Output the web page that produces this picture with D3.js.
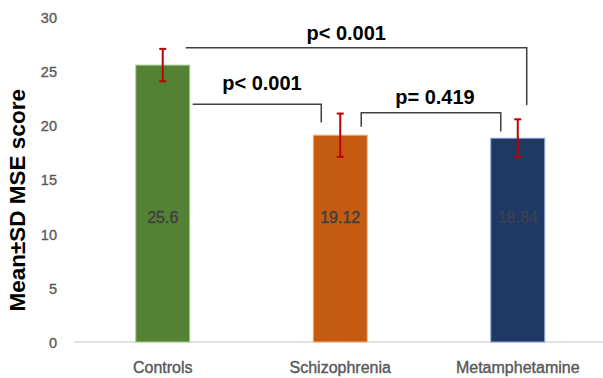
<!DOCTYPE html>
<html>
<head>
<meta charset="utf-8">
<script src="https://cdn.jsdelivr.net/npm/d3@7"></script>
<style>
  html, body { margin: 0; padding: 0; background: #fff; }
  svg { display: block; }
</style>
</head>
<body>
<svg id="chart" width="603" height="378"></svg>
<script>
// Group means and standard deviations of MSE score
const groups = ["Controls", "Schizophrenia", "Metamphetamine"];
const means = [25.6, 19.12, 18.84];
const sds = [1.5, 2.0, 1.75];
const valueLabels = ["25.6", "19.12", "18.84"];
const yTicks = [0, 5, 10, 15, 20, 25, 30];

// Pairwise comparisons: [from group, to group, p-value text]
const pairFrom = ["Controls", "Controls", "Schizophrenia"];
const pairTo = ["Metamphetamine", "Schizophrenia", "Metamphetamine"];
const pairText = ["p< 0.001", "p< 0.001", "p= 0.419"];

const barFill = ["#548235", "#c55a11", "#203864"];
const barEdge = ["#a9d18e", "#f4b183", "#8faadc"];

const svg = d3.select("#chart");
const font = "'Liberation Sans', Arial, sans-serif";

const x = d3.scaleBand()
  .domain(groups)
  .range([74, 606.5])
  .paddingInner(0.696)
  .paddingOuter(0.348);

const y = d3.scaleLinear().domain([0, 30]).range([342, 17.5]);

// Baseline
svg.append("line")
  .attr("x1", 74).attr("x2", 603)
  .attr("y1", y(0)).attr("y2", y(0))
  .attr("stroke", "#d9d9d9").attr("stroke-width", 1.5);

// Y axis tick labels (no axis line, no tick marks)
const yAxis = d3.axisLeft(y).tickValues(yTicks).tickSize(0).tickPadding(0);
const yG = svg.append("g").attr("transform", "translate(57,0)").call(yAxis);
yG.select(".domain").remove();
yG.selectAll("text")
  .attr("font-family", font).attr("font-size", 14.5)
  .attr("fill", "#595959").attr("stroke", "#595959").attr("stroke-width", 0.35)
  .attr("dy", "0.36em");

// X axis category labels
const xAxis = d3.axisBottom(x).tickSize(0).tickPadding(0);
const xG = svg.append("g").attr("transform", `translate(0,${y(0)})`).call(xAxis);
xG.select(".domain").remove();
xG.selectAll("text")
  .attr("font-family", font).attr("font-size", 16)
  .attr("fill", "#595959").attr("stroke", "#595959").attr("stroke-width", 0.4)
  .attr("dy", null)
  .attr("y", 30.5);

// Y axis title
svg.append("text")
  .attr("transform", `translate(24.5,${y(13.1)}) rotate(-90)`)
  .attr("text-anchor", "middle")
  .attr("font-family", font).attr("font-weight", "bold").attr("font-size", 22.5)
  .attr("fill", "#000")
  .text("Mean\u00B1SD MSE score");

// Bars
svg.selectAll("rect.bar")
  .data(groups)
  .join("rect")
  .attr("class", "bar")
  .attr("x", d => x(d))
  .attr("width", x.bandwidth())
  .attr("y", (d, i) => y(means[i]))
  .attr("height", (d, i) => y(0) - y(means[i]))
  .attr("fill", (d, i) => barFill[i])
  .attr("stroke", (d, i) => barEdge[i])
  .attr("stroke-width", 1);

// Value labels inside bars
svg.selectAll("text.val")
  .data(groups)
  .join("text")
  .attr("class", "val")
  .attr("x", d => x(d) + x.bandwidth() / 2)
  .attr("y", y(11))
  .attr("text-anchor", "middle")
  .attr("font-family", font).attr("font-size", 16)
  .attr("fill", (d, i) => i === 2 ? "#3a4250" : "#404040")
  .attr("stroke", (d, i) => i === 2 ? "#3a4250" : "#404040")
  .attr("stroke-width", 0.4)
  .text((d, i) => valueLabels[i]);

// Error bars
const cap = 3.5;
const err = svg.append("g").attr("stroke", "#c00000").attr("stroke-width", 2);
groups.forEach((g, i) => {
  const cx = x(g) + x.bandwidth() / 2;
  const hi = y(means[i] + sds[i]);
  const lo = y(means[i] - sds[i]);
  err.append("line").attr("x1", cx).attr("x2", cx).attr("y1", hi).attr("y2", lo);
  err.append("line").attr("x1", cx - cap).attr("x2", cx + cap).attr("y1", hi).attr("y2", hi);
  err.append("line").attr("x1", cx - cap).attr("x2", cx + cap).attr("y1", lo).attr("y2", lo);
});

// Significance brackets
const brk = svg.append("g").attr("stroke", "#404040").attr("stroke-width", 1.5).attr("fill", "none");

// Controls vs Metamphetamine: from the right of the Controls error bar over to the Metamphetamine bar
{
  const x1 = x(pairFrom[0]) + x.bandwidth() - 4;
  const x2 = x(pairTo[0]) + x.bandwidth() - 18;
  const yy = y(27.2);
  brk.append("path").attr("d", `M${x1},${yy}H${x2}V${y(21.9)}`);
  svg.append("text")
    .attr("x", (x1 + x2) / 2 - 10).attr("y", y(27.9))
    .attr("text-anchor", "middle")
    .attr("font-family", font).attr("font-weight", "bold").attr("font-size", 20)
    .attr("fill", "#000").text(pairText[0]);
}
// Controls vs Schizophrenia
{
  const x1 = x(pairFrom[1]) + x.bandwidth() + 3;
  const x2 = x(pairTo[1]) + 8;
  const yy = y(21.97);
  brk.append("path").attr("d", `M${x1},${yy}H${x2}V${y(20.3)}`);
  svg.append("text")
    .attr("x", (x1 + x2) / 2 + 5).attr("y", y(23.3))
    .attr("text-anchor", "middle")
    .attr("font-family", font).attr("font-weight", "bold").attr("font-size", 20)
    .attr("fill", "#000").text(pairText[1]);
}
// Schizophrenia vs Metamphetamine
{
  const x1 = x(pairFrom[2]) + x.bandwidth() - 6;
  const x2 = x(pairTo[2]) + 10;
  const yy = y(21.2);
  brk.append("path").attr("d", `M${x1},${y(19.9)}V${yy}H${x2}V${y(19.45)}`);
  svg.append("text")
    .attr("x", (x1 + x2) / 2 + 4).attr("y", y(21.97))
    .attr("text-anchor", "middle")
    .attr("font-family", font).attr("font-weight", "bold").attr("font-size", 20)
    .attr("fill", "#000").text(pairText[2]);
}
</script>
</body>
</html>
